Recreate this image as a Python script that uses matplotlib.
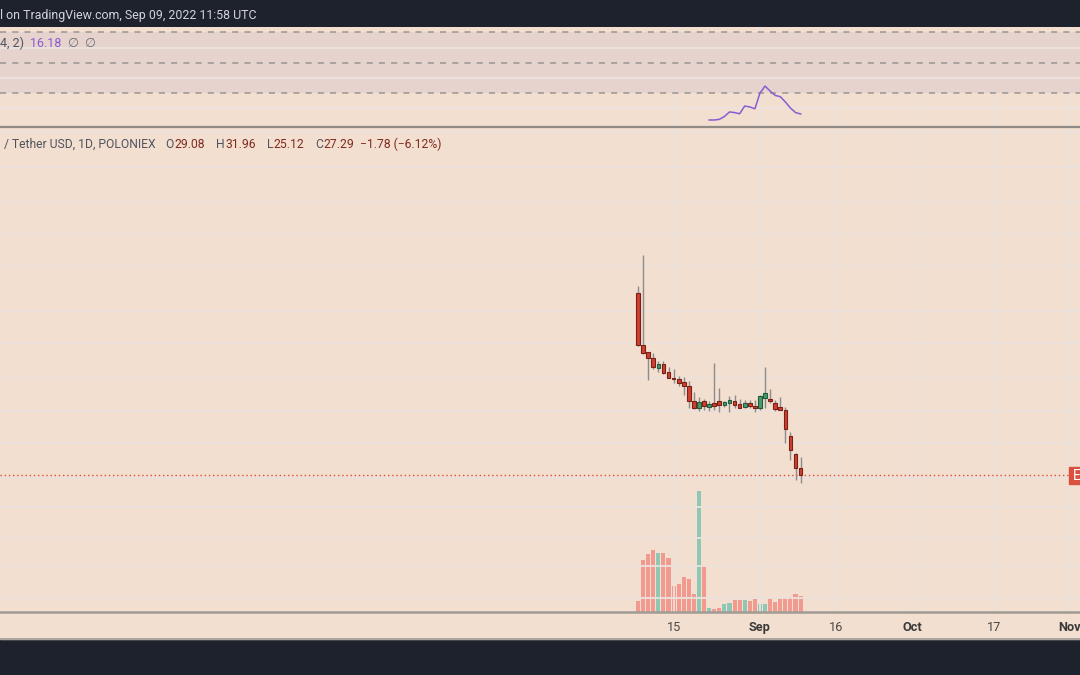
import matplotlib
matplotlib.use('Agg')
import matplotlib.pyplot as plt
import matplotlib.dates as mdates
from matplotlib.patches import Rectangle
from matplotlib.lines import Line2D
import numpy as np
import pandas as pd

# daily candles, Aug 08 - Sep 09 2022
dates = pd.date_range('2022-08-08', periods=33, freq='D')
opens = [75.3, 61.5, 59.6, 58.2, 55.6, 56.6, 54.4, 53.0, 52.6, 51.7, 50.8, 46.8, 45.0,
         46.8, 45.3, 46.2, 46.7, 45.7, 46.4, 46.8, 46.0, 45.2, 46.3, 45.5, 45.0, 47.5,
         47.4, 46.2, 45.3, 44.4, 37.5, 32.8, 29.08]
highs = [77.1, 85.2, 59.7, 59.4, 57.3, 57.3, 55.7, 55.3, 53.5, 53.1, 52.1, 49.2, 47.8,
         47.3, 46.7, 56.8, 50.3, 46.7, 48.1, 48.4, 47.3, 47.1, 47.1, 47.1, 48.3, 55.7,
         49.9, 47.1, 47.9, 45.3, 38.6, 33.1, 31.96]
lows = [61.3, 59.2, 52.3, 55.2, 54.5, 54.0, 52.8, 51.6, 50.8, 48.3, 44.9, 44.8, 44.3,
        44.4, 44.3, 44.4, 43.8, 45.3, 43.8, 45.1, 44.9, 44.9, 45.1, 43.8, 44.4, 45.1,
        46.2, 44.3, 44.4, 35.7, 31.2, 26.1, 25.12]
closes = [61.6, 59.5, 58.1, 55.7, 56.6, 54.3, 53.0, 52.6, 51.6, 50.8, 46.8, 45.0, 46.6,
          45.5, 46.1, 45.6, 45.8, 46.5, 47.1, 45.8, 45.1, 46.3, 45.6, 45.1, 48.1, 48.8,
          46.7, 44.7, 44.5, 39.4, 33.9, 29.08, 27.29]
volumes = [55, 258, 288, 310, 292, 293, 268, 130, 140, 172, 165, 87, 603, 222, 18, 15,
           18, 40, 45, 57, 60, 60, 53, 65, 37, 38, 70, 48, 70, 70, 75, 88, 80]

# RSI starts on Aug 22
rsi_dates = pd.date_range('2022-08-22', periods=19, freq='D')
rsi = [12.2, 12.2, 12.6, 14.5, 17.5, 17.1, 16.3, 21.4, 20.8, 19.6, 30.0, 34.6, 31.3,
       28.4, 27.6, 24.1, 20.1, 17.1, 16.18]

grid_levels = [117.5, 108.5, 99.3, 90.8, 82.4, 70.6, 62.2, 52.8, 44.3, 35.7, 26.5,
               19.0, 10.8, 3.4, -5.1]
tick_dates = pd.to_datetime(['2022-08-15', '2022-09-01', '2022-09-16', '2022-10-01',
                             '2022-10-17', '2022-11-01'])
tick_labels = ['15', 'Sep', '16', 'Oct', '17', 'Nov']
tick_bold = [False, True, False, True, False, True]

BG = '#f2dfd0'
DARK = '#1e222d'
GRID = '#ebe2dc'
RED = '#d0402f'
RED_EDGE = '#7a2016'
GREEN = '#4a9a6e'
GREEN_EDGE = '#1f5e3c'
H = 675.0
W = 1080.0

fig = plt.figure(figsize=(10.8, 6.75), dpi=100, facecolor=DARK)

def fy(px):
    return 1 - px / H

ax_top = fig.add_axes([0, fy(126.7), 1, (126.7 - 27.3) / H])
ax = fig.add_axes([0, fy(611.7), 1, (611.7 - 128) / H])
fig.patches.append(Rectangle((0, fy(639)), 1, (639 - 611.7) / H,
                             transform=fig.transFigure, color=BG, zorder=0))
fig.patches.append(Rectangle((0, fy(611.7)), 1, (611.7 - 128) / H,
                             transform=fig.transFigure, color=BG, zorder=-1))

x0 = mdates.date2num(pd.Timestamp('2022-08-15'))
xlim = (x0 - 132.6, x0 + 80.0)
xd = mdates.date2num(dates)

for a in (ax_top, ax):
    a.set_facecolor(BG)
    a.set_xlim(xlim)
    for s in a.spines.values():
        s.set_visible(False)
    for t in mdates.date2num(tick_dates):
        a.axvline(t, color=GRID, lw=1.3, zorder=0.3)

# indicator panel
ax_top.set_ylim(7.76, 73.4)
ax_top.axhspan(30, 70, color='#e1cbce', alpha=0.6, zorder=0.5, lw=0)
for lv in [20, 40, 60]:
    ax_top.axhline(lv, color='#ede3e1', lw=1.2, zorder=0.7)
for lv in [30, 50, 70]:
    ax_top.axhline(lv, color='#9a9592', lw=1.1, ls=(0, (4, 4)), zorder=1)
ax_top.plot(mdates.date2num(rsi_dates), rsi, color='#8a5cd0', lw=1.1, zorder=3)
ax_top.set_xticks([])
ax_top.set_yticks([])

# price panel
ax.set_ylim(-8.63, 118.66)
ax.set_yticks(grid_levels)
ax.grid(axis='y', color=GRID, lw=1.3, zorder=0)
ax.tick_params(axis='y', length=0, labelleft=False)

vax = ax.twinx()
vax.set_xlim(xlim)
vax.set_ylim(0, max(volumes) * 4.0)
vax.axis('off')
vcol = ['#8ec8b4' if c >= o else '#f39a90' for o, c in zip(opens, closes)]
vax.bar(xd, volumes, width=0.8, color=vcol, lw=0, zorder=1)

ax.set_zorder(vax.get_zorder() + 1)
ax.patch.set_visible(False)

ax.vlines(xd, lows, highs, color='#8c8c8c', lw=1.0, zorder=3)
bot = [min(o, c) for o, c in zip(opens, closes)]
hgt = [max(abs(c - o), 0.35) for o, c in zip(opens, closes)]
fc = [GREEN if c >= o else RED for o, c in zip(opens, closes)]
ec = [GREEN_EDGE if c >= o else RED_EDGE for o, c in zip(opens, closes)]
ax.bar(xd, hgt, bottom=bot, width=0.72, color=fc, edgecolor=ec, linewidth=0.8, zorder=4)

ax.axhline(closes[-1], color='#d9503c', lw=1.0, ls=(0, (1, 2)), zorder=2)

ax.set_xticks(mdates.date2num(tick_dates))
ax.set_xticklabels(tick_labels)
ax.tick_params(axis='x', length=0, pad=6.5, labelsize=9.2, colors='#4a4a4a')
for lab, b in zip(ax.get_xticklabels(), tick_bold):
    lab.set_fontfamily('Roboto')
    if b:
        lab.set_fontweight('bold')
        lab.set_color('#3a3a3a')

# separators
for py, col, lw in [(127.3, '#8f8a86', 1.6), (611.7, '#a09a94', 1.8), (639.3, '#a09a94', 1.2)]:
    fig.add_artist(Line2D([0, 1], [fy(py), fy(py)], transform=fig.transFigure,
                          color=col, lw=lw, zorder=10))

# price label on the right edge
fig.patches.append(Rectangle((1069 / W, fy(483.5)), 20 / W, 16.5 / H,
                             transform=fig.transFigure, color='#d9503c', zorder=11))
fig.text(1073 / W, fy(475.5), 'E', color='white', fontsize=10, family='Roboto',
         va='center', ha='left', zorder=12)

# header texts
fig.text(0, fy(15), 'l on TradingView.com, Sep 09, 2022 11:58 UTC', color='#d1d4dc',
         fontsize=8.9, family='Roboto', va='center', ha='left')

renderer = fig.canvas.get_renderer()

def chain(x, y, parts, size):
    # draw text parts one after another, gap in pixels before each part
    for gap, s, col, fam in parts:
        x += gap
        t = fig.text(x / W, fy(y), s, color=col, fontsize=size, family=fam,
                     va='center', ha='left')
        x += t.get_window_extent(renderer).width

GRAY_T = '#50535e'
VAL_T = '#7f2a1f'
chain(0, 43.5, [(0, '4, 2)', GRAY_T, 'Roboto'), (6, '16.18', '#8a5cd0', 'Roboto'),
                (6, '\u2205', '#6a6d78', 'DejaVu Sans'), (6, '\u2205', '#6a6d78', 'DejaVu Sans')], 9.0)
chain(4, 144, [(0, '/ Tether USD, 1D, POLONIEX', GRAY_T, 'Roboto'),
               (10, 'O', GRAY_T, 'Roboto'), (0.5, '29.08', VAL_T, 'Roboto'),
               (11, 'H', GRAY_T, 'Roboto'), (0.5, '31.96', VAL_T, 'Roboto'),
               (11, 'L', GRAY_T, 'Roboto'), (0.5, '25.12', VAL_T, 'Roboto'),
               (11, 'C', GRAY_T, 'Roboto'), (0.5, '27.29', VAL_T, 'Roboto'),
               (6, '\u22121.78 (\u22126.12%)', VAL_T, 'Roboto')], 8.7)

fig.savefig('out.png', dpi=100, facecolor=DARK)
